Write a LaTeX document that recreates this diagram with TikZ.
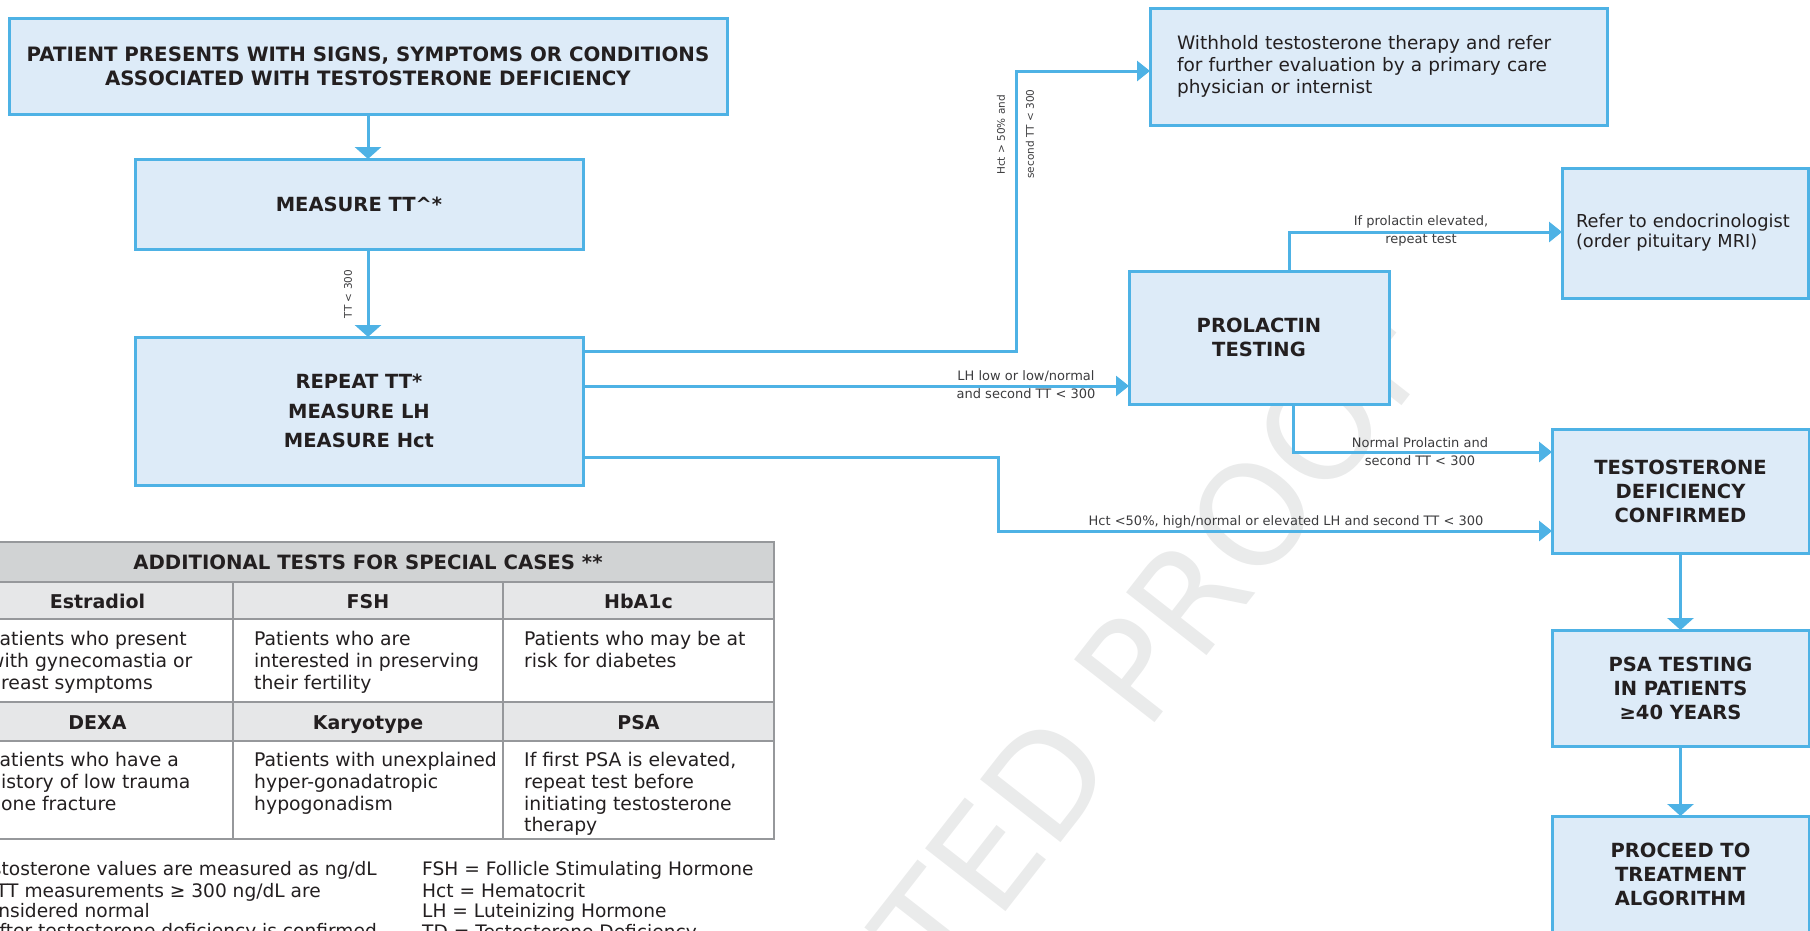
\documentclass[tikz,border=0pt]{standalone}
\usepackage{fontspec}
\setmainfont{DejaVu Sans}
\usetikzlibrary{arrows.meta}
\definecolor{lineblue}{RGB}{78,178,229}
\definecolor{boxfill}{RGB}{221,235,248}
\definecolor{txt}{RGB}{35,31,32}
\definecolor{lbltxt}{RGB}{60,60,62}
\definecolor{tblhead}{RGB}{209,211,212}
\definecolor{tblsub}{RGB}{230,231,232}
\definecolor{tblline}{RGB}{150,152,155}
\definecolor{wmark}{RGB}{234,235,235}
\tikzset{
  flowbox/.style={draw=lineblue, fill=boxfill, line width=3pt, inner sep=0pt, outer sep=0pt, text=txt, align=center},
  boldtxt/.style={font=\bfseries\fontsize{19.5pt}{24pt}\selectfont},
  plaintxt/.style={font=\fontsize{18.5pt}{22pt}\selectfont},
  conn/.style={draw=lineblue, line width=3pt},
  harr/.style={conn, -{Triangle[width=20pt,length=13pt]}},
  varr/.style={conn, -{Triangle[width=26pt,length=12pt]}},
  lbl/.style={font=\fontsize{13pt}{18pt}\selectfont, text=lbltxt, inner sep=0pt, align=center},
  rlbl/.style={font=\fontsize{10.5pt}{12pt}\selectfont, text=lbltxt, inner sep=0pt, rotate=90},
  tline/.style={draw=tblline, line width=1.8pt},
  thead/.style={font=\bfseries\fontsize{19.7pt}{22pt}\selectfont, text=txt, inner sep=0pt},
  tsub/.style={font=\bfseries\fontsize{19pt}{20pt}\selectfont, text=txt, inner sep=0pt, anchor=base},
  tbody/.style={font=\fontsize{18.8pt}{21.8pt}\selectfont, text=txt, inner sep=0pt, anchor=north west, align=left},
  fnote/.style={font=\fontsize{18.6pt}{21pt}\selectfont, text=txt, inner sep=0pt},
  wmtext/.style={font=\fontsize{140pt}{140pt}\selectfont, text=wmark, inner sep=0pt}
}
\begin{document}
\begin{tikzpicture}[x=1pt,y=-1pt]
\useasboundingbox (0,0) rectangle (1810,930);
\clip (0,0) rectangle (1810,930);

% watermark
\node[wmtext, rotate=52] (wm) at (1012,822) {ACCEPTED PROOF};

% flow boxes
\node[flowbox, font=\bfseries\fontsize{19.8pt}{24pt}\selectfont, minimum width=718pt, minimum height=96pt] (start) at (368,66)
  {PATIENT PRESENTS WITH SIGNS, SYMPTOMS OR CONDITIONS\\ASSOCIATED WITH TESTOSTERONE DEFICIENCY};
\node[flowbox, boldtxt, minimum width=448pt, minimum height=90pt] (measure) at (359,204)
  {MEASURE TT\textasciicircum*};
\node[flowbox, font=\bfseries\fontsize{19.5pt}{29.5pt}\selectfont, minimum width=448pt, minimum height=148pt] (repeat) at (359,411)
  {REPEAT TT*\\MEASURE LH\\MEASURE Hct};
\node[flowbox, plaintxt, align=left, text width=403pt, minimum width=457pt, minimum height=117pt] (withhold) at (1378.5,66.5)
  {\mbox{Withhold testosterone therapy and refer}\\\mbox{for further evaluation by a primary care}\\\mbox{physician or internist}};
\node[flowbox, font=\fontsize{17.8pt}{20pt}\selectfont, align=left, text width=218pt, minimum width=246pt, minimum height=130pt] (endo) at (1685,233)
  {\mbox{Refer to endocrinologist}\\\mbox{(order pituitary MRI)}};
\node[flowbox, boldtxt, minimum width=260pt, minimum height=133pt] (prolactin) at (1259,337.5)
  {PROLACTIN\\TESTING};
\node[flowbox, boldtxt, minimum width=257pt, minimum height=124pt] (tdc) at (1680.5,491)
  {TESTOSTERONE\\DEFICIENCY\\CONFIRMED};
\node[flowbox, boldtxt, minimum width=257pt, minimum height=116pt] (psa) at (1680.5,688)
  {PSA TESTING\\IN PATIENTS\\≥40 YEARS};
\node[flowbox, boldtxt, minimum width=257pt, minimum height=116pt] (proceed) at (1680.5,874)
  {PROCEED TO\\TREATMENT\\ALGORITHM};

% connectors
\draw[varr] (start.south) -- (start.south |- measure.north);
\draw[varr] ([xshift=9pt]measure.south) -- ([xshift=9pt]repeat.north);
\draw[harr] ([yshift=60pt]repeat.east) -- ++(433,0) |- ([yshift=-4.5pt]withhold.west);
\draw[harr] ([yshift=25pt]repeat.east) -- ([yshift=-48.5pt]prolactin.west);
\draw[harr] ([yshift=-46pt]repeat.east) -- ++(415,0) |- ([yshift=-40pt]tdc.west);
\draw[harr] ([xshift=30pt]prolactin.north) |- ([yshift=1pt]endo.west);
\draw[harr] ([xshift=34pt]prolactin.south) |- ([yshift=39pt]tdc.west);
\draw[varr] (tdc.south) -- (psa.north);
\draw[varr] (psa.south) -- (proceed.north);

% connector labels
\node[rlbl] (ltt) at (348,294) {TT < 300};
\node[rlbl] (lhct1) at (1001,135) {Hct > 50\% and};
\node[rlbl] (lhct2) at (1030,134) {second TT < 300};
\node[lbl] (llh) at (1026,385) {LH low or low/normal\\and second TT < 300};
\node[lbl] (lpro) at (1421,231) {If prolactin elevated,\\repeat test};
\node[lbl] (lnorm) at (1420,452) {Normal Prolactin and\\second TT < 300};
\node[lbl] (lhct3) at (1286,522) {Hct <50\%, high/normal or elevated LH and second TT < 300};

% table
\fill[tblhead] (-38,542) rectangle (774,582);
\fill[tblsub] (-38,582) rectangle (774,619);
\fill[tblsub] (-38,702) rectangle (774,741);
\draw[tline] (-38,542) rectangle (774,839);
\draw[tline] (-38,582) -- (774,582) (-38,619) -- (774,619) (-38,702) -- (774,702) (-38,741) -- (774,741)
  (233,582) -- (233,839) (503,582) -- (503,839);
\node[thead] (th) at (368,562) {ADDITIONAL TESTS FOR SPECIAL CASES **};
\node[tsub] (s1) at (97.5,608) {Estradiol};
\node[tsub] (s2) at (368,608) {FSH};
\node[tsub] (s3) at (638.5,608) {HbA1c};
\node[tsub] (s4) at (97.5,729) {DEXA};
\node[tsub] (s5) at (368,729) {Karyotype};
\node[tsub] (s6) at (638.5,729) {PSA};
\node[tbody] (b1) at (-11,631) {Patients who present\\with gynecomastia or\\breast symptoms};
\node[tbody] (b2) at (254,631) {Patients who are\\interested in preserving\\their fertility};
\node[tbody] (b3) at (524,631) {Patients who may be at\\risk for diabetes};
\node[tbody] (b4) at (-11,752) {Patients who have a\\history of low trauma\\bone fracture};
\node[tbody] (b5) at (254,752) {Patients with unexplained\\hyper-gonadatropic\\hypogonadism};
\node[tbody] (b6) at (524,752) {If first PSA is elevated,\\repeat test before\\initiating testosterone\\therapy};

% footnotes
\node[fnote, anchor=base east] (f1) at (377,875) {\textasciicircum Testosterone values are measured as ng/dL};
\node[fnote, anchor=base east] (f2) at (321,897) {* TT measurements ≥ 300 ng/dL are};
\node[fnote, anchor=base east] (f3) at (150,917) {considered normal};
\node[fnote, anchor=base east] (f4) at (377,937) {** After testosterone deficiency is confirmed};
\node[fnote, anchor=base west] (f5) at (422,875) {FSH = Follicle Stimulating Hormone};
\node[fnote, anchor=base west] (f6) at (422,897) {Hct = Hematocrit};
\node[fnote, anchor=base west] (f7) at (422,917) {LH = Luteinizing Hormone};
\node[fnote, anchor=base west] (f8) at (422,938) {TD = Testosterone Deficiency};
\end{tikzpicture}
\end{document}
